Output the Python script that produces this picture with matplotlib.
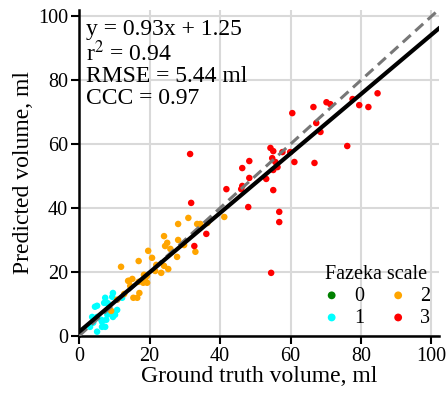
import numpy as np
import matplotlib
matplotlib.use("Agg")
import matplotlib.pyplot as plt

plt.rcParams['font.family'] = ['Liberation Serif', 'DejaVu Serif']
plt.rcParams['mathtext.fontset'] = 'stix'

# Fazekas grade 1
gt_1 = [9.6, 9.4, 7.4, 8.0, 8.2, 5.1, 4.5, 7.1, 10.8, 10.2, 9.4, 8.0, 5.1, 3.7, 6.3, 7.7, 9.6, 10.2, 3.1, 5.1, 6.5, 7.4, 6.5, 12.2, 4.0]
pred_1 = [13.4, 12.2, 11.9, 10.3, 10.0, 9.4, 9.1, 10.3, 8.1, 7.5, 7.2, 6.6, 5.9, 5.9, 5.0, 5.0, 5.9, 6.6, 2.8, 1.3, 2.8, 2.8, 4.4, 11.9, 4.1]

# Fazekas grade 2
gt_2 = [41.2, 31.0, 28.1, 33.5, 34.4, 36.4, 24.1, 28.1, 24.4, 25.0, 25.9, 19.6, 20.7, 16.9, 27.8, 33.0, 29.8, 21.9, 11.9, 21.6, 24.1, 23.3, 19.3, 14.2, 15.1, 18.8, 18.2, 16.9, 14.5, 19.3, 16.5, 17.1, 12.8, 15.4, 10.8, 9.1, 18.4, 25.3, 13.9]
pred_2 = [37.2, 36.9, 35.0, 35.0, 35.0, 35.3, 31.2, 30.0, 28.1, 29.1, 27.2, 26.6, 24.4, 23.4, 24.7, 26.3, 28.4, 22.2, 21.6, 20.3, 21.9, 19.7, 18.8, 17.2, 17.8, 18.1, 16.6, 16.9, 15.6, 16.6, 11.9, 13.4, 13.1, 11.9, 11.3, 7.8, 19.1, 20.9, 17.2]

# Fazekas grade 3
gt_3 = [31.5, 31.8, 36.1, 32.7, 41.8, 46.0, 46.3, 46.3, 48.3, 48.3, 48.0, 53.1, 54.3, 55.1, 57.7, 59.9, 54.8, 55.7, 56.3, 55.1, 61.1, 66.8, 55.1, 56.8, 56.8, 54.5, 60.5, 66.5, 67.3, 68.5, 70.2, 71.3, 76.1, 77.6, 79.5, 82.1, 84.7]
pred_3 = [56.9, 41.6, 31.9, 28.1, 45.9, 45.9, 46.9, 52.5, 54.7, 49.4, 40.3, 49.1, 58.8, 57.8, 57.5, 57.5, 55.6, 54.4, 52.8, 51.9, 54.4, 54.1, 45.6, 38.8, 35.6, 19.7, 69.7, 71.6, 66.6, 63.8, 73.1, 72.5, 59.4, 74.1, 72.2, 71.6, 75.9]

slope, intercept = 0.93, 1.25
stats_text = ["y = 0.93x + 1.25", "r$^2$ = 0.94", "RMSE = 5.44 ml", "CCC = 0.97"]

grades = ["0", "1", "2", "3"]
colors = {"0": "green", "1": "cyan", "2": "orange", "3": "red"}
series = {"0": ([], []), "1": (gt_1, pred_1), "2": (gt_2, pred_2), "3": (gt_3, pred_3)}

fig = plt.figure(figsize=(4.47, 3.96), dpi=100)
ax = fig.add_axes([0.177, 0.152, 0.804, 0.823])
lim = (0, 102)
ax.set_xlim(lim)
ax.set_ylim(lim)

ax.grid(True, color="#d9d9d9", linewidth=1.5, zorder=0)
ax.set_axisbelow(True)

for g in grades:
    xs, ys = series[g]
    ax.scatter(xs, ys, s=22, color=colors[g], edgecolors="none", label=g, zorder=3)

xl = np.array(lim)
ax.plot(xl, xl, linestyle=(0, (3.5, 2)), color="#777777", linewidth=2.2, zorder=4)
ax.plot(xl, slope * xl + intercept, color="black", linewidth=3.0, zorder=5)

for s in ["top", "right"]:
    ax.spines[s].set_visible(False)
for s in ["left", "bottom"]:
    ax.spines[s].set_linewidth(1.8)
ax.tick_params(width=1.5, length=6, labelsize=14.5, pad=2)
ax.set_xticks([0, 20, 40, 60, 80, 100])
ax.set_yticks([0, 20, 40, 60, 80, 100])

ax.set_xlabel("Ground truth volume, ml", fontsize=17, labelpad=0)
ax.set_ylabel("Predicted volume, ml", fontsize=17, labelpad=3)

ax.text(0.02, 0.972, "\n".join(stats_text), transform=ax.transAxes,
        fontsize=17, va="top", ha="left", linespacing=1.02)

leg = ax.legend(title="Fazeka scale", ncol=2, loc="lower right", frameon=False,
                fontsize=14.5, title_fontsize=14.5, handlelength=1.0,
                handletextpad=0.6, columnspacing=1.2, borderaxespad=0.0,
                markerscale=1.2, labelspacing=0.15)

fig.savefig("out.png", dpi=100)
